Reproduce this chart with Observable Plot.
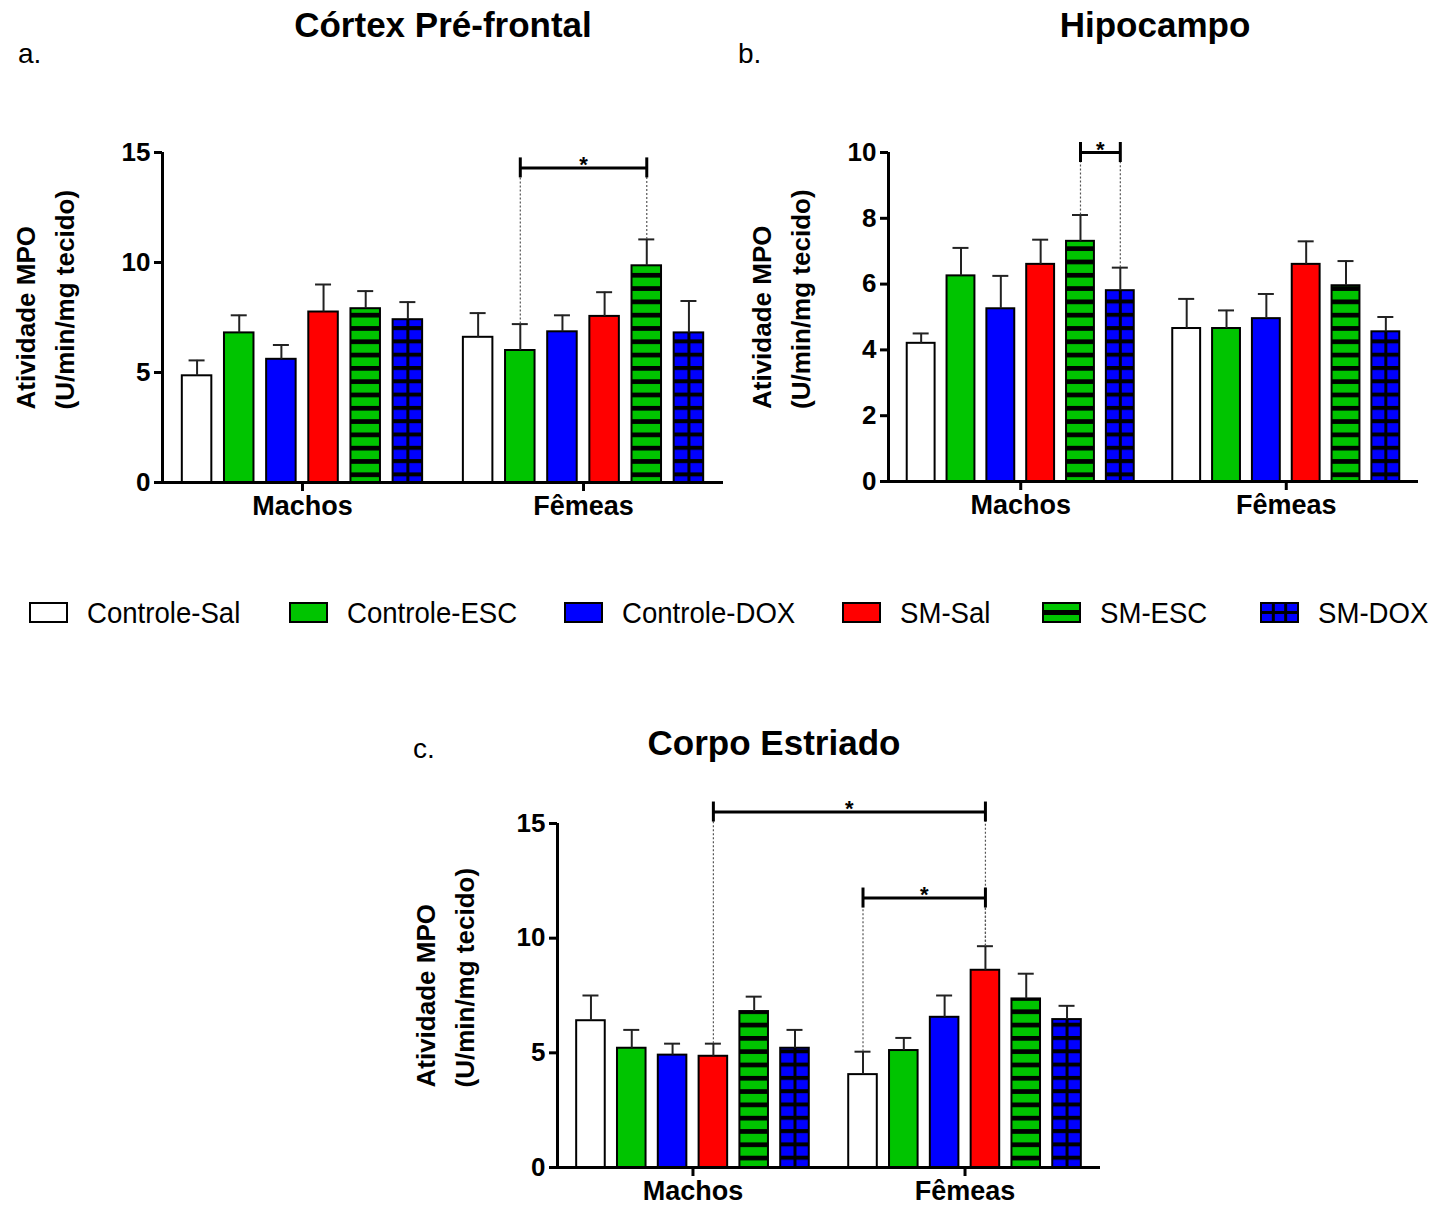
<!DOCTYPE html>
<html><head><meta charset="utf-8">
<script src="https://cdn.jsdelivr.net/npm/d3@7"></script>
<script src="https://cdn.jsdelivr.net/npm/@observablehq/plot@0.6"></script>
<style>
body{margin:0;background:#fff;}
#page{position:relative;width:1454px;height:1205px;overflow:hidden;font-family:"Liberation Sans",Arial,sans-serif;}
.panel{position:absolute;}
</style></head>
<body>
<svg width="0" height="0" style="position:absolute">
  <defs>
    <pattern id="stripes" patternUnits="userSpaceOnUse" width="10" height="13.3">
      <rect width="10" height="13.3" fill="#00c400"></rect>
      <rect y="0" width="10" height="4.7" fill="#000"></rect>
    </pattern>
    <pattern id="grid" patternUnits="userSpaceOnUse" width="10" height="13.3">
      <rect width="10" height="13.3" fill="#0000ff"></rect>
      <rect y="0" width="10" height="4" fill="#000"></rect>
    </pattern>
  </defs>
</svg>
<div id="page"></div>
<script>
// ---------- data ----------
const groups = ["Machos", "Fêmeas"];
const series = ["Controle-Sal", "Controle-ESC", "Controle-DOX", "SM-Sal", "SM-ESC", "SM-DOX"];
const seriesColors = ["#ffffff", "#00c400", "#0000ff", "#ff0000", "#00c400", "#0000ff"];
const seriesPatterns = [null, null, null, null, "stripes", "grid"];

// Córtex Pré-frontal
const cortexMachos = [4.85, 6.8, 5.6, 7.75, 7.9, 7.4];
const cortexMachosSem = [0.7, 0.8, 0.65, 1.25, 0.8, 0.8];
const cortexFemeas = [6.6, 6.0, 6.85, 7.55, 9.85, 6.8];
const cortexFemeasSem = [1.1, 1.2, 0.75, 1.1, 1.2, 1.45];
const cortexTicks = [0, 5, 10, 15];
const cortexBrackets = [{from: ["Fêmeas", "Controle-ESC"], to: ["Fêmeas", "SM-ESC"], y: 14.3}];

// Hipocampo
const hipoMachos = [4.2, 6.25, 5.25, 6.6, 7.3, 5.8];
const hipoMachosSem = [0.3, 0.85, 1.0, 0.75, 0.8, 0.7];
const hipoFemeas = [4.65, 4.65, 4.95, 6.6, 5.95, 4.55];
const hipoFemeasSem = [0.9, 0.55, 0.75, 0.7, 0.75, 0.45];
const hipoTicks = [0, 2, 4, 6, 8, 10];
const hipoBrackets = [{from: ["Machos", "SM-ESC"], to: ["Machos", "SM-DOX"], y: 10.0}];

// Corpo Estriado
const estriadoMachos = [6.4, 5.2, 4.9, 4.85, 6.8, 5.2];
const estriadoMachosSem = [1.1, 0.8, 0.5, 0.55, 0.65, 0.8];
const estriadoFemeas = [4.05, 5.1, 6.55, 8.6, 7.35, 6.45];
const estriadoFemeasSem = [1.0, 0.55, 0.95, 1.05, 1.1, 0.6];
const estriadoTicks = [0, 5, 10, 15];
const estriadoBrackets = [
  {from: ["Machos", "SM-Sal"], to: ["Fêmeas", "SM-Sal"], y: 15.5},
  {from: ["Fêmeas", "Controle-Sal"], to: ["Fêmeas", "SM-Sal"], y: 11.75}
];

const yLabel = "Atividade MPO\n(U/min/mg tecido)";

// ---------- layout ----------
const groupSpacing = 6 + 2 / 3;
const FONT = "'Liberation Sans', Arial, sans-serif";
const page = document.getElementById("page");

function panel(cfg) {
  const rows = [];
  groups.forEach((g, gi) => series.forEach((s, si) => rows.push({
    group: g, series: s, x: gi * groupSpacing + si,
    value: cfg.means[gi][si], sem: cfg.sems[gi][si],
    fill: seriesPatterns[si] ? `url(#${seriesPatterns[si]})` : seriesColors[si]
  })));
  const find = ([g, s]) => rows.find(r => r.group === g && r.series === s);
  const br = cfg.brackets.map(b => {
    const a = find(b.from), c = find(b.to);
    return {x1: a.x, x2: c.x, y: b.y, ya: a.value + a.sem, yc: c.value + c.sem};
  });
  const dotted = br.flatMap(b => [{x: b.x1, y1: b.ya, y2: b.y}, {x: b.x2, y1: b.yc, y2: b.y}]);
  const ends = br.flatMap(b => [{x: b.x1, y: b.y}, {x: b.x2, y: b.y}]);
  const centers = groups.map(g => ({group: g, x: d3.mean(rows.filter(r => r.group === g), r => r.x)}));
  const xmin = -0.82, xmax = (groups.length - 1) * groupSpacing + series.length - 1 + 0.82;
  const hw = 0.35;
  const svg = Plot.plot({
    width: cfg.width, height: cfg.height,
    marginLeft: cfg.ml, marginRight: cfg.mr, marginTop: cfg.mt, marginBottom: cfg.mb,
    x: {domain: [xmin, xmax], axis: null},
    y: {domain: [0, cfg.ymax], axis: null},
    color: {type: "identity"},
    style: {fontFamily: FONT, background: "transparent", overflow: "visible", maxWidth: "none"},
    marks: [
      Plot.rectY(rows, {x1: d => d.x - hw, x2: d => d.x + hw, y1: 0, y2: "value", fill: "fill"}),
      Plot.ruleX(rows.filter(d => d.series === "SM-DOX"), {x: "x", y1: 0, y2: "value", stroke: "#000", strokeWidth: 3}),
      Plot.rectY(rows, {x1: d => d.x - hw, x2: d => d.x + hw, y1: 0, y2: "value", fill: "none", stroke: "#000", strokeWidth: 2}),
      Plot.ruleX(rows, {x: "x", y1: "value", y2: d => d.value + d.sem, stroke: "#222", strokeWidth: 2}),
      Plot.ruleY(rows, {y: d => d.value + d.sem, x1: "x", x2: "x", insetLeft: -8, insetRight: -8, stroke: "#222", strokeWidth: 2}),
      // axes
      Plot.ruleX([xmin], {y1: 0, y2: cfg.ymax, stroke: "#000", strokeWidth: 3}),
      Plot.ruleY([0], {x1: xmin, x2: xmax, stroke: "#000", strokeWidth: 3}),
      Plot.ruleY(cfg.ticks, {y: d => d, x1: xmin, x2: xmin, insetLeft: -8, stroke: "#000", strokeWidth: 3}),
      Plot.text(cfg.ticks, {x: xmin, y: d => d, text: d => String(d), dx: -12, textAnchor: "end", fontWeight: "bold", fontSize: 26, fill: "#000"}),
      Plot.ruleX(centers, {x: "x", y1: 0, y2: 0, insetBottom: -9, stroke: "#000", strokeWidth: 3}),
      Plot.text(centers, {x: "x", y: 0, text: "group", dy: 24, fontWeight: "bold", fontSize: 27, fill: "#000"}),
      Plot.text([yLabel], {frameAnchor: "left", text: d => d, rotate: -90, dx: cfg.labelDx, dy: 92, fontWeight: "bold", fontSize: 26, lineHeight: 1.5, fill: "#000"}),
      // significance brackets
      Plot.ruleX(dotted, {x: "x", y1: "y1", y2: "y2", stroke: "#555", strokeWidth: 1.2, strokeDasharray: "2,2"}),
      Plot.ruleY(br, {y: "y", x1: "x1", x2: "x2", stroke: "#000", strokeWidth: 3}),
      Plot.ruleX(ends, {x: "x", y1: "y", y2: "y", insetTop: -10, insetBottom: -10, stroke: "#000", strokeWidth: 3}),
      Plot.text(br, {x: d => (d.x1 + d.x2) / 2, y: "y", text: () => "*", dy: -3, fontWeight: "bold", fontSize: 22, fill: "#000"})
    ]
  });
  const div = document.createElement("div");
  div.className = "panel";
  div.style.left = cfg.left + "px";
  div.style.top = cfg.top + "px";
  div.appendChild(svg);
  page.appendChild(div);
}

// page-level texts and legend (drawn first, behind the panels)
const over = d3.select(page).append("svg")
  .attr("width", 1454).attr("height", 1205)
  .style("position", "absolute").style("left", 0).style("top", 0)
  .style("font-family", FONT);

const titles = [
  {text: "Córtex Pré-frontal", x: 443, y: 37},
  {text: "Hipocampo", x: 1155, y: 37},
  {text: "Corpo Estriado", x: 774, y: 755}
];
const letters = [
  {text: "a.", x: 18, y: 63},
  {text: "b.", x: 738, y: 63},
  {text: "c.", x: 413, y: 758}
];
over.selectAll("text.t").data(titles).join("text")
  .attr("x", d => d.x).attr("y", d => d.y).attr("text-anchor", "middle")
  .attr("font-size", 35).attr("font-weight", "bold").text(d => d.text);
over.selectAll("text.l").data(letters).join("text")
  .attr("x", d => d.x).attr("y", d => d.y)
  .attr("font-size", 28).text(d => d.text);

const legendX = [30, 290, 565, 843, 1043, 1261];
const legendY = 603;
series.forEach((s, i) => {
  const g = over.append("g").attr("transform", `translate(${legendX[i]},${legendY})`);
  const w = 37, h = 19;
  g.append("rect").attr("width", w).attr("height", h).attr("fill", seriesColors[i]);
  if (seriesPatterns[i] === "stripes") {
    g.append("rect").attr("y", h / 2 - 2.5).attr("width", w).attr("height", 5).attr("fill", "#000");
  } else if (seriesPatterns[i] === "grid") {
    g.append("rect").attr("y", h / 2 - 1.5).attr("width", w).attr("height", 3).attr("fill", "#000");
    g.append("rect").attr("x", w / 3 - 1.5).attr("width", 3).attr("height", h).attr("fill", "#000");
    g.append("rect").attr("x", 2 * w / 3 - 1.5).attr("width", 3).attr("height", h).attr("fill", "#000");
  }
  g.append("rect").attr("width", w).attr("height", h).attr("fill", "none").attr("stroke", "#000").attr("stroke-width", 2);
  g.append("text").attr("x", 57).attr("y", 20).attr("font-size", 30)
    .attr("transform", "translate(57,0) scale(0.92,1) translate(-57,0)").text(s);
});

panel({left: 0, top: 100, width: 735, height: 442, ml: 162, mr: 12, mt: 52, mb: 60,
  ymax: 15, ticks: cortexTicks, means: [cortexMachos, cortexFemeas], sems: [cortexMachosSem, cortexFemeasSem],
  brackets: cortexBrackets, labelDx: -120});
panel({left: 720, top: 100, width: 718, height: 441, ml: 168, mr: 20, mt: 52, mb: 60,
  ymax: 10, ticks: hipoTicks, means: [hipoMachos, hipoFemeas], sems: [hipoMachosSem, hipoFemeasSem],
  brackets: hipoBrackets, labelDx: -110});
panel({left: 400, top: 770, width: 720, height: 435, ml: 157, mr: 20, mt: 53, mb: 38,
  ymax: 15, ticks: estriadoTicks, means: [estriadoMachos, estriadoFemeas], sems: [estriadoMachosSem, estriadoFemeasSem],
  brackets: estriadoBrackets, labelDx: -115});
</script>
</body></html>
